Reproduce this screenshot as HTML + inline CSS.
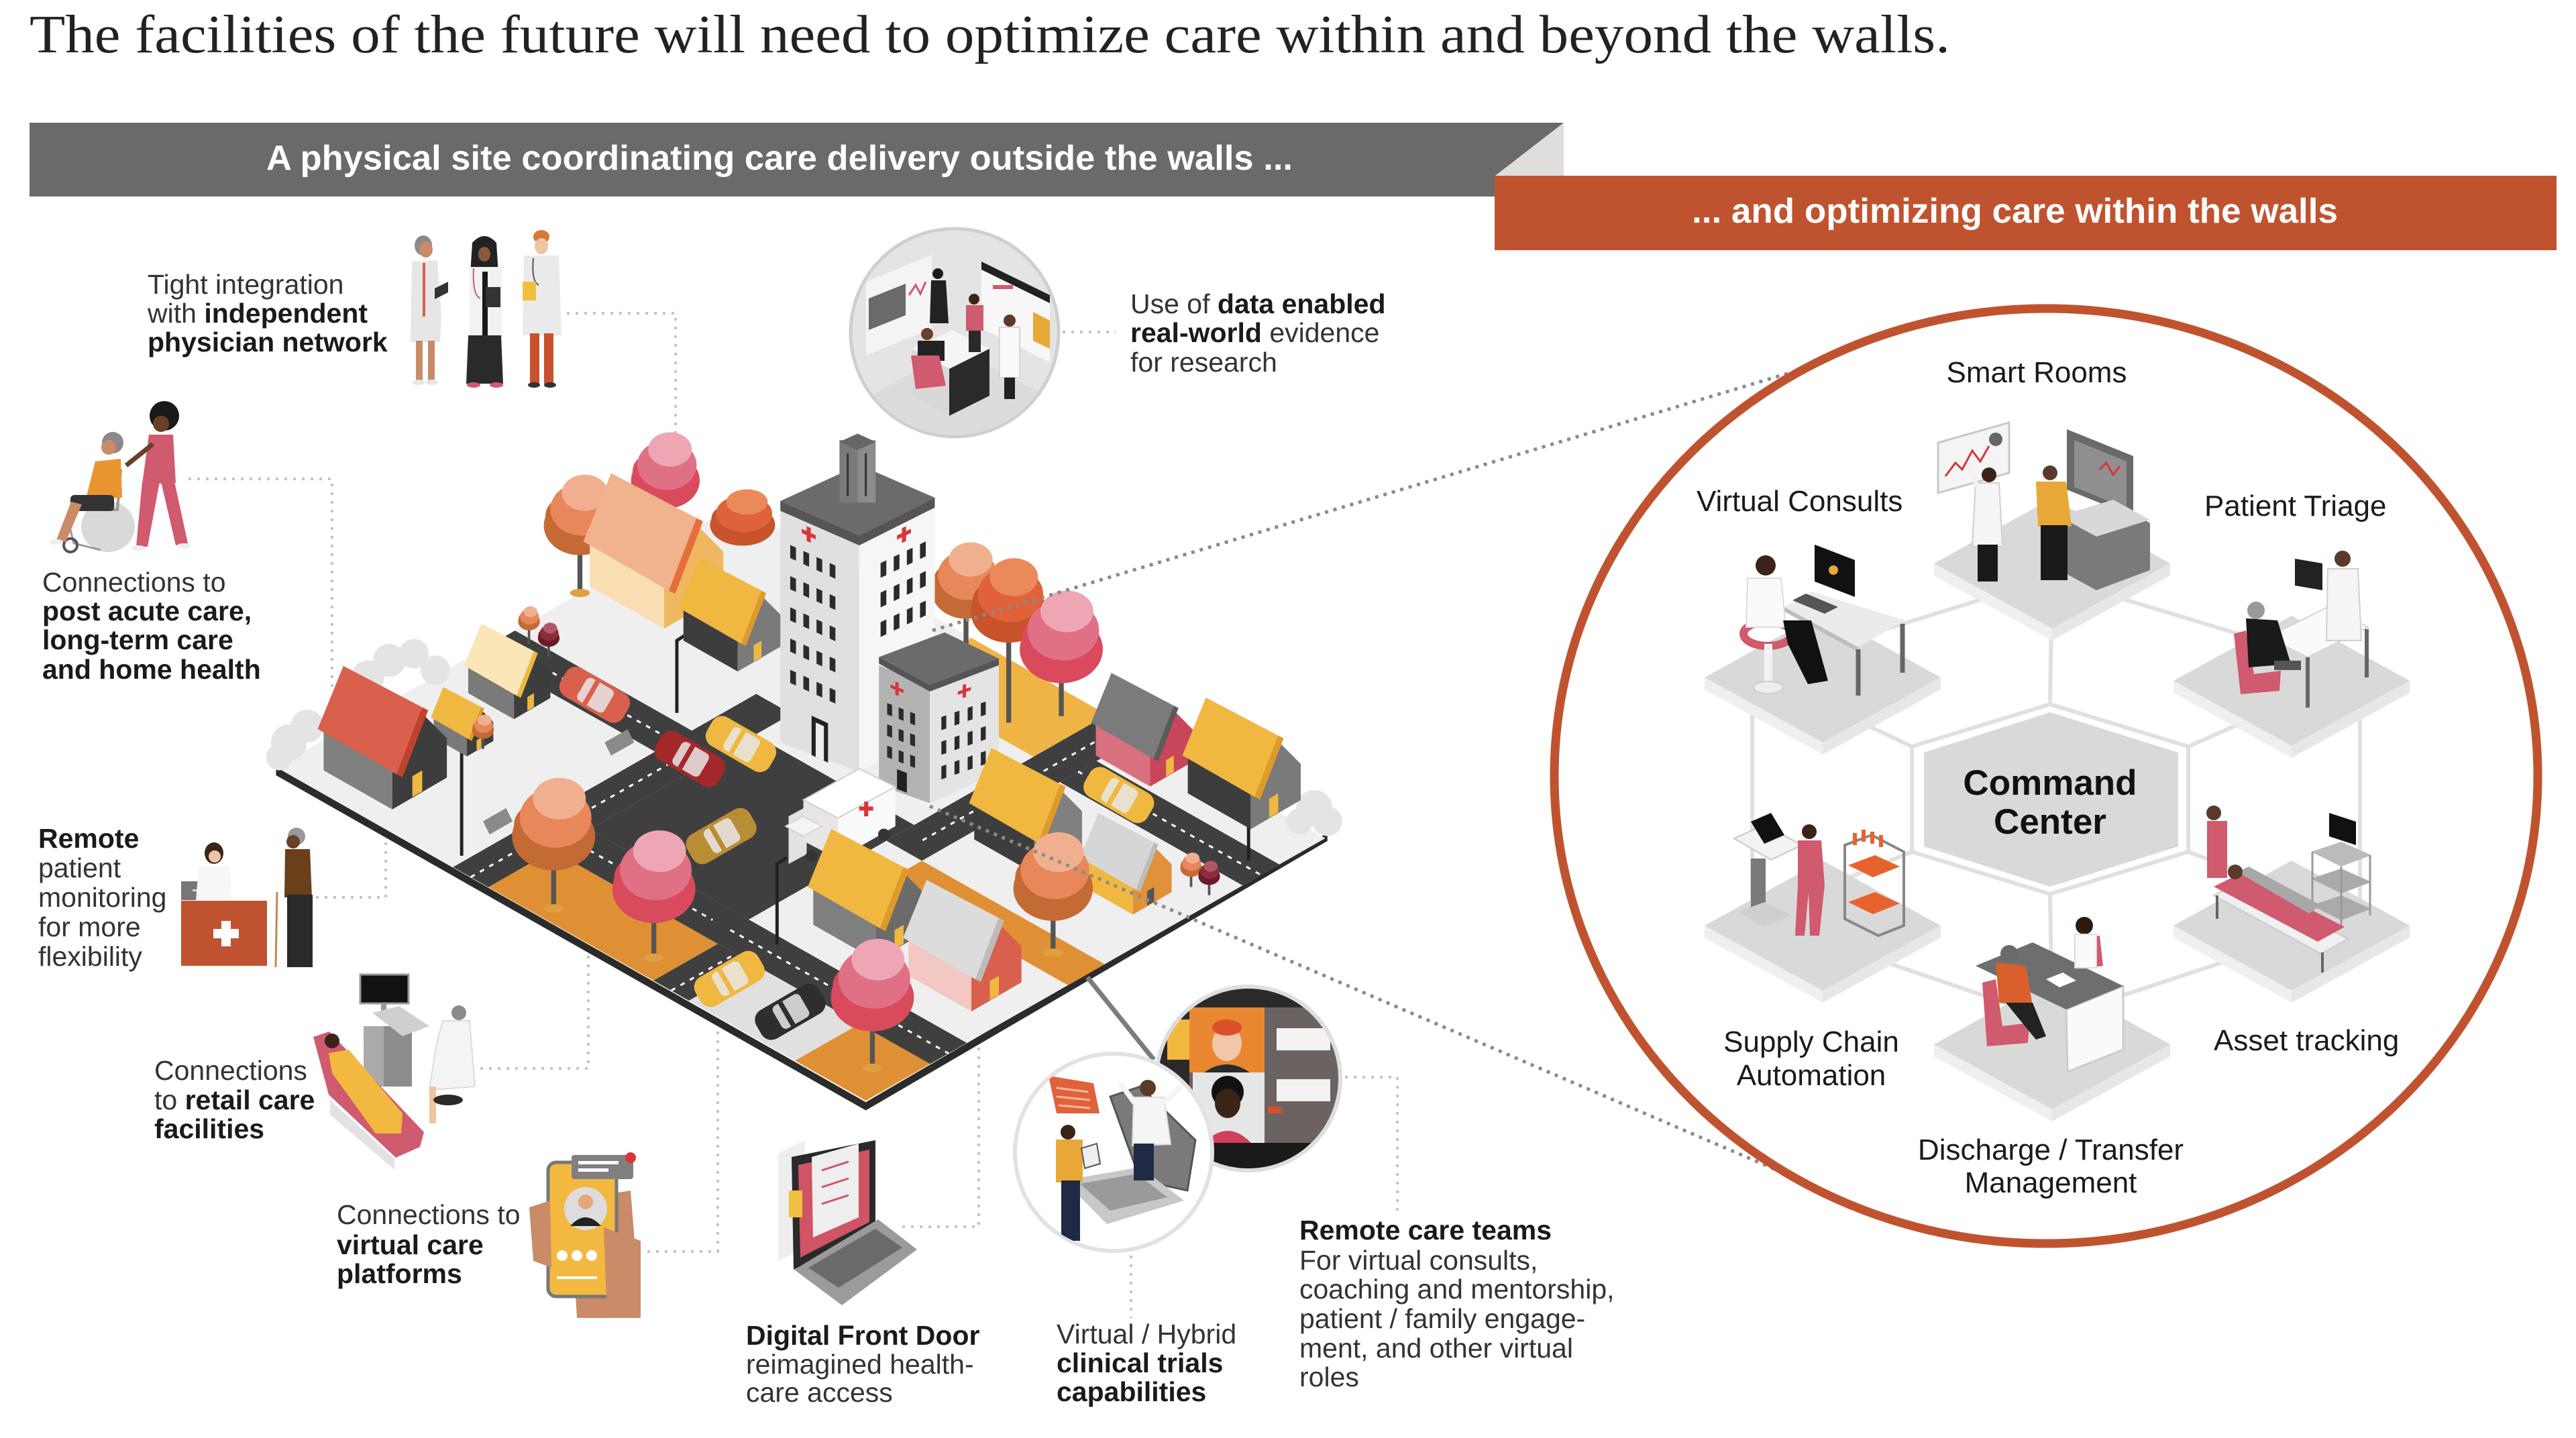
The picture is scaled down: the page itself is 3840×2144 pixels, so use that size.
<!DOCTYPE html>
<html><head><meta charset="utf-8">
<style>
html,body{margin:0;padding:0;background:#fff;}
svg{display:block;}
.t{font-family:"Liberation Sans",Arial,sans-serif;font-size:41px;fill:#333;}
.b{font-weight:bold;fill:#1a1a1a;}
.c{font-family:"Liberation Sans",Arial,sans-serif;font-size:44px;fill:#1a1a1a;}
</style></head><body>
<svg width="3840" height="2144" viewBox="0 0 3840 2144" xmlns="http://www.w3.org/2000/svg" xmlns:xlink="http://www.w3.org/1999/xlink">
<defs>
 <g id="house">
  <polygon points="0,0 34.8,19.8 34.8,-0.2 0,-20" style="fill:var(--s)"/>
  <polygon points="34.8,19.8 62.5,3.7 62.5,-16.3 48.65,-30.25 34.8,-0.2" style="fill:var(--g)"/>
  <polygon points="-3,-21 37,2 50,-32 10,-53" style="fill:var(--r)"/>
  <polygon points="37,2 50,-32 53,-30.5 40,3.5" style="fill:var(--e)"/>
  <polygon points="45,13.5 50,10.6 50,0 45,3" style="fill:var(--d)"/>
 </g>
 <g id="canopy">
  <ellipse cx="0" cy="8" rx="22" ry="18" style="fill:var(--a)"/>
  <ellipse cx="-7" cy="2" rx="14" ry="12" style="fill:var(--a)"/>
  <ellipse cx="1" cy="-2" rx="19" ry="16" style="fill:var(--b)"/>
  <ellipse cx="3" cy="-12" rx="14" ry="11" style="fill:var(--c)"/>
 </g>
 <g id="car">
  <rect x="-22" y="-10" width="44" height="20" rx="7" style="fill:var(--k)"/>
  <rect x="-9" y="-8" width="19" height="16" rx="3" fill="#e8e8e8" opacity="0.85"/>
  <rect x="-4" y="-8" width="3" height="16" style="fill:var(--k)"/>
 </g>
 <clipPath id="vc"><circle cx="1861" cy="1608" r="137"/></clipPath>
 <clipPath id="dc"><circle cx="1423" cy="496" r="153"/></clipPath>
 <clipPath id="cc"><circle cx="1660" cy="1718" r="145"/></clipPath>
</defs>
<rect width="3840" height="2144" fill="#fff"/>

<!-- Title -->
<text x="44" y="78" font-family="Liberation Serif, serif" font-size="80" fill="#222" textLength="2863" lengthAdjust="spacingAndGlyphs">The facilities of the future will need to optimize care within and beyond the walls.</text>

<!-- Banners -->
<polygon points="44,183 2331,183 2229,262 2229,293 44,293" fill="#6a6a6a"/>
<polygon points="2331,183 2331,262 2229,262" fill="#dedede"/>
<rect x="2228" y="262" width="1583" height="111" fill="#c0532f"/>
<text x="397" y="253" font-family="Liberation Sans, Arial, sans-serif" font-size="52" font-weight="bold" fill="#fff" textLength="1530" lengthAdjust="spacingAndGlyphs">A physical site coordinating care delivery outside the walls ...</text>
<text x="2522" y="332" font-family="Liberation Sans, Arial, sans-serif" font-size="52" font-weight="bold" fill="#fff" textLength="963" lengthAdjust="spacingAndGlyphs">... and optimizing care within the walls</text>

<!-- Left dotted connectors -->
<g fill="none" stroke="#c4c4c4" stroke-width="4" stroke-dasharray="4 9">
 <polyline points="845,467 1007,467 1007,780"/>
 <polyline points="281,714 495,714 495,1024"/>
 <polyline points="471,1338 575,1338 575,1229 666,1229"/>
 <polyline points="716,1593 877,1593 877,1353"/>
 <polyline points="965,1866 1070,1866 1070,1530"/>
 <polyline points="1345,1829 1459,1829 1459,1542"/>
 <polyline points="1686,1872 1686,1965"/>
 <polyline points="2005,1606 2083,1606 2083,1808"/>
 <polyline points="1584,495 1663,495"/>
</g>

<!-- CITY (main coords) -->
<g transform="scale(2.449)">
 <polygon points="168,467 527,671 808,507 808,512 527,676 168,472" fill="#2b2b2b"/>
 <g transform="matrix(3.59,2.031,2.797,-1.598,168,467)">
  <rect x="0" y="0" width="100" height="100" fill="#efefef"/>
  <rect x="36" y="0" width="28" height="14" fill="#df9035"/>
  <rect x="88" y="0" width="12" height="14" fill="#df9035"/>
  <rect x="70" y="0" width="18" height="14" fill="#e0e0e0"/>
  <rect x="69" y="44" width="31" height="8" fill="#df9035"/>
  <rect x="40" y="84" width="23" height="16" fill="#f0b445"/>
  <g fill="#3f3f3f">
   <rect x="30" y="0" width="6" height="66"/>
   <rect x="0" y="44" width="36" height="8"/>
   <rect x="36" y="22" width="27" height="36"/>
   <rect x="36" y="14" width="64" height="8"/>
   <rect x="64" y="0" width="6" height="14"/>
   <rect x="63" y="52" width="6" height="48"/>
   <rect x="69" y="82" width="31" height="8"/>
  </g>
  <g stroke="#fff" stroke-width="3" stroke-dasharray="7 9">
   <line x1="33" y1="0" x2="33" y2="44" vector-effect="non-scaling-stroke"/>
   <line x1="0" y1="48" x2="30" y2="48" vector-effect="non-scaling-stroke"/>
   <line x1="63" y1="18" x2="100" y2="18" vector-effect="non-scaling-stroke"/>
   <line x1="36" y1="18" x2="60" y2="18" vector-effect="non-scaling-stroke"/>
   <line x1="69" y1="86" x2="100" y2="86" vector-effect="non-scaling-stroke"/>
   <line x1="66" y1="56" x2="66" y2="100" vector-effect="non-scaling-stroke"/>
   <line x1="67" y1="0" x2="67" y2="14" vector-effect="non-scaling-stroke"/>
  </g>
 </g>
 <!-- clouds -->
 <g fill="#e4e4e4">
  <circle cx="176" cy="452" r="11"/><circle cx="187" cy="442" r="10"/><circle cx="170" cy="461" r="8"/>
  <circle cx="224" cy="412" r="10"/><circle cx="237" cy="402" r="10"/><circle cx="252" cy="398" r="9"/><circle cx="265" cy="408" r="9"/>
  <circle cx="800" cy="492" r="11"/><circle cx="808" cy="500" r="9"/><circle cx="791" cy="500" r="8"/>
 </g>
 <!-- cars -->
 <use xlink:href="#car" href="#car" transform="translate(362,423) rotate(30)" style="--k:#d9604c"/>
 <use xlink:href="#car" href="#car" transform="translate(420,462) rotate(30)" style="--k:#a3282a"/>
 <use xlink:href="#car" href="#car" transform="translate(451,453) rotate(30)" style="--k:#f0b840"/>
 <use xlink:href="#car" href="#car" transform="translate(439,509) rotate(-30)" style="--k:#b88d35"/>
 <use xlink:href="#car" href="#car" transform="translate(444,596) rotate(-30)" style="--k:#f0b840"/>
 <use xlink:href="#car" href="#car" transform="translate(481,616) rotate(-30)" style="--k:#2e2e2e"/>
 <use xlink:href="#car" href="#car" transform="translate(681,484) rotate(30)" style="--k:#f0b840"/>
 <!-- benches & lamps -->
 <polygon points="368,452 382,444 386,452 372,460" fill="#8a8a8a"/>
 <polygon points="294,500 308,492 312,500 298,508" fill="#8a8a8a"/>
 <g stroke="#222" stroke-width="2" fill="none">
  <polyline points="412,434 412,390 418,386"/>
  <polyline points="281,521 281,453 287,449"/>
  <polyline points="473,575 473,526 479,522"/>
  <polyline points="760,524 760,473 754,469"/>
 </g>
 <!-- back trees -->
 <line x1="405" y1="300" x2="405" y2="330" stroke="#555" stroke-width="3"/>
 <use xlink:href="#canopy" href="#canopy" transform="translate(405,285) scale(0.95)" style="--a:#d94a5c;--b:#e07085;--c:#eea6b5"/>
 <use xlink:href="#canopy" href="#canopy" transform="translate(452,314) scale(0.9,0.7)" style="--a:#c9532a;--b:#e0623a;--c:#ea8a5a"/>
 <line x1="353" y1="327" x2="353" y2="361" stroke="#555" stroke-width="3"/>
 <ellipse cx="353" cy="361" rx="6" ry="2.5" fill="#e0a040"/>
 <use xlink:href="#canopy" href="#canopy" transform="translate(353,312)" style="--a:#c46a35;--b:#e8875a;--c:#f0b090"/>
 <!-- houses back -->
 <use xlink:href="#house" href="#house" transform="translate(359,357) scale(1.3)" style="--s:#f8deb2;--g:#efb860;--r:#f1b28e;--e:#e56f3c;--d:#8a8a8a"/>
 <use xlink:href="#house" href="#house" transform="translate(416,390) scale(0.95)" style="--s:#3d3d3d;--g:#7a7a7a;--r:#f0b840;--e:#e09a2a;--d:#f0b840"/>
 <line x1="588" y1="366" x2="588" y2="420" stroke="#555" stroke-width="3"/>
 <use xlink:href="#canopy" href="#canopy" transform="translate(588,352) scale(0.95)" style="--a:#c46a35;--b:#e8875a;--c:#f0b090"/>
 <use xlink:href="#house" href="#house" transform="translate(285,422) scale(0.8)" style="--s:#7a7a7a;--g:#3d3d3d;--r:#fbe6b8;--e:#f0b840;--d:#f0b840"/>
 <line x1="646" y1="400" x2="646" y2="436" stroke="#555" stroke-width="3"/>
 <line x1="614" y1="380" x2="614" y2="440" stroke="#555" stroke-width="3"/>
 <use xlink:href="#canopy" href="#canopy" transform="translate(614,364) scale(1.05)" style="--a:#c9532a;--b:#e0623a;--c:#ea8a5a"/>
 <use xlink:href="#canopy" href="#canopy" transform="translate(646,386) scale(1.15)" style="--a:#d94a5c;--b:#e07085;--c:#eea6b5"/>
 <!-- small trees -->
 <line x1="322" y1="380" x2="322" y2="392" stroke="#555" stroke-width="1.5"/>
 <use xlink:href="#canopy" href="#canopy" transform="translate(322,376) scale(0.3)" style="--a:#c46a35;--b:#e8875a;--c:#f0b090"/>
 <line x1="334" y1="390" x2="334" y2="400" stroke="#555" stroke-width="1.5"/>
 <use xlink:href="#canopy" href="#canopy" transform="translate(334,386) scale(0.3)" style="--a:#6a1a2a;--b:#8e2b3c;--c:#b05868"/>
 <use xlink:href="#house" href="#house" transform="translate(264,449) scale(0.58)" style="--s:#7a7a7a;--g:#3d3d3d;--r:#f0b840;--e:#e09a2a;--d:#f0b840"/>
 <line x1="294" y1="446" x2="294" y2="456" stroke="#555" stroke-width="1.5"/>
 <use xlink:href="#canopy" href="#canopy" transform="translate(294,442) scale(0.3)" style="--a:#c46a35;--b:#e8875a;--c:#f0b090"/>
 <use xlink:href="#house" href="#house" transform="translate(667,460) scale(0.95)" style="--s:#d9707e;--g:#c8465a;--r:#7b7b7b;--e:#5a5a5a;--d:#f0b840"/>
 <use xlink:href="#house" href="#house" transform="translate(197,469) scale(1.2)" style="--s:#808080;--g:#3d3d3d;--r:#d9604c;--e:#c0412f;--d:#f0b840"/>
 <!-- big hospital -->
 <polygon points="475,307 523,329 523,470 475,452" fill="#e0e0e0"/>
 <polygon points="523,329 569,307 569,443 523,470" fill="#f6f6f6"/>
 <polygon points="475,305 523,326 569,303 569,309 523,332 475,311" fill="#555"/>
 <polygon points="475,305 523,283 569,303 523,326" fill="#6b6b6b"/>
 <rect x="511" y="268" width="22" height="38" fill="#8c8c8c"/>
 <rect x="511" y="268" width="11" height="38" fill="#7a7a7a"/>
 <polygon points="511,269 522,264 533,269 522,274" fill="#666"/>
 <line x1="516" y1="276" x2="516" y2="302" stroke="#333" stroke-width="1.2"/>
 <line x1="527" y1="276" x2="527" y2="302" stroke="#333" stroke-width="1.2"/>
 <g transform="matrix(1,0.458,0,1,0,89.45)" fill="#2b2b2b">
  <rect x="481" y="22" width="3.5" height="8"/><rect x="489" y="22" width="3.5" height="8"/><rect x="497" y="22" width="3.5" height="8"/><rect x="505" y="22" width="3.5" height="8"/>
  <rect x="481" y="41" width="3.5" height="8"/><rect x="489" y="41" width="3.5" height="8"/><rect x="497" y="41" width="3.5" height="8"/><rect x="505" y="41" width="3.5" height="8"/>
  <rect x="481" y="60" width="3.5" height="8"/><rect x="489" y="60" width="3.5" height="8"/><rect x="497" y="60" width="3.5" height="8"/><rect x="505" y="60" width="3.5" height="8"/>
  <rect x="481" y="79" width="3.5" height="8"/><rect x="489" y="79" width="3.5" height="8"/><rect x="497" y="79" width="3.5" height="8"/><rect x="505" y="79" width="3.5" height="8"/>
  <rect x="481" y="98" width="3.5" height="8"/><rect x="489" y="98" width="3.5" height="8"/><rect x="497" y="98" width="3.5" height="8"/><rect x="505" y="98" width="3.5" height="8"/>
  <rect x="494" y="120" width="10" height="24" fill="#222"/><rect x="496.5" y="123" width="5" height="21" fill="#eee"/>
  <rect x="491" y="6" width="2.5" height="9" fill="#d9343a"/><rect x="488" y="9" width="8.5" height="2.5" fill="#d9343a"/>
 </g>
 <g transform="matrix(1,-0.478,0,1,0,579)" fill="#2b2b2b">
  <rect x="536" y="20" width="3.5" height="9"/><rect x="544" y="20" width="3.5" height="9"/><rect x="552" y="20" width="3.5" height="9"/><rect x="560" y="20" width="3.5" height="9"/>
  <rect x="536" y="38" width="3.5" height="9"/><rect x="544" y="38" width="3.5" height="9"/><rect x="552" y="38" width="3.5" height="9"/><rect x="560" y="38" width="3.5" height="9"/>
  <rect x="536" y="56" width="3.5" height="9"/><rect x="544" y="56" width="3.5" height="9"/><rect x="552" y="56" width="3.5" height="9"/><rect x="560" y="56" width="3.5" height="9"/>
  <rect x="549" y="5" width="2.5" height="9" fill="#d9343a"/><rect x="546" y="8" width="8.5" height="2.5" fill="#d9343a"/>
 </g>
 <use xlink:href="#house" href="#house" transform="translate(723,483) scale(1.1)" style="--s:#3d3d3d;--g:#7a7a7a;--r:#f0b840;--e:#e09a2a;--d:#f0b840"/>
 <line x1="725" y1="530" x2="725" y2="540" stroke="#555" stroke-width="1.5"/>
 <use xlink:href="#canopy" href="#canopy" transform="translate(725,526) scale(0.3)" style="--a:#c46a35;--b:#e8875a;--c:#f0b090"/>
 <line x1="736" y1="535" x2="736" y2="545" stroke="#555" stroke-width="1.5"/>
 <use xlink:href="#canopy" href="#canopy" transform="translate(736,531) scale(0.3)" style="--a:#6a1a2a;--b:#8e2b3c;--c:#b05868"/>
 <!-- small hospital -->
 <polygon points="535,405 566,417 566,489 535,478" fill="#b3b3b3"/>
 <polygon points="566,417 608,402 608,470 566,489" fill="#e4e4e4"/>
 <polygon points="535,400 575,385 608,401 566,417" fill="#6b6b6b"/>
 <polygon points="535,400 566,417 608,401 608,405 566,421 535,404" fill="#555"/>
 <g transform="matrix(1,0.387,0,1,0,197)" fill="#2b2b2b">
  <rect x="540" y="22" width="3" height="7"/><rect x="547" y="22" width="3" height="7"/><rect x="554" y="22" width="3" height="7"/>
  <rect x="540" y="35" width="3" height="7"/><rect x="547" y="35" width="3" height="7"/><rect x="554" y="35" width="3" height="7"/>
  <rect x="540" y="48" width="3" height="7"/><rect x="547" y="48" width="3" height="7"/><rect x="554" y="48" width="3" height="7"/>
  <rect x="546" y="60" width="6" height="12" fill="#222"/>
  <rect x="545" y="7" width="2" height="8" fill="#d9343a"/><rect x="542" y="10" width="8" height="2" fill="#d9343a"/>
 </g>
 <g transform="matrix(1,-0.349,0,1,0,614.5)" fill="#2b2b2b">
  <rect x="573" y="22" width="3" height="8"/><rect x="581" y="22" width="3" height="8"/><rect x="589" y="22" width="3" height="8"/><rect x="597" y="22" width="3" height="8"/>
  <rect x="573" y="37" width="3" height="8"/><rect x="581" y="37" width="3" height="8"/><rect x="589" y="37" width="3" height="8"/><rect x="597" y="37" width="3" height="8"/>
  <rect x="573" y="52" width="3" height="8"/><rect x="581" y="52" width="3" height="8"/><rect x="589" y="52" width="3" height="8"/><rect x="597" y="52" width="3" height="8"/>
  <rect x="586" y="7" width="2" height="8" fill="#d9343a"/><rect x="583" y="10" width="8" height="2" fill="#d9343a"/>
 </g>
 <!-- ambulance -->
 <polygon points="480,497 491,491 491,520 480,526" fill="#e2e2e2"/>
 <polygon points="489,487 510,498 510,523 489,512" fill="#e6e6e6"/>
 <polygon points="510,498 545,479 545,503 510,523" fill="#fafafa"/>
 <polygon points="489,487 523,468 545,479 510,498" fill="#ffffff" stroke="#cfcfcf" stroke-width="0.8"/>
 <polygon points="478,503 489,497 500,503 489,509" fill="#f4f4f4" stroke="#cfcfcf" stroke-width="0.6"/>
 <rect x="526" y="488" width="2.5" height="9" fill="#d9343a"/><rect x="523" y="491" width="8.5" height="2.5" fill="#d9343a"/>
 <circle cx="494" cy="521" r="3.5" fill="#333"/><circle cx="515" cy="522" r="3.5" fill="#333"/><circle cx="538" cy="508" r="3.5" fill="#333"/>
 <use xlink:href="#house" href="#house" transform="translate(593,511) scale(1.05)" style="--s:#3d3d3d;--g:#808080;--r:#f0b840;--e:#e09a2a;--d:#f0b840"/>
 <line x1="337" y1="515" x2="337" y2="553" stroke="#555" stroke-width="3"/>
 <ellipse cx="337" cy="553" rx="6" ry="2.5" fill="#e0a040"/>
 <use xlink:href="#canopy" href="#canopy" transform="translate(337,500) scale(1.15)" style="--a:#c46a35;--b:#e8875a;--c:#f0b090"/>
 <use xlink:href="#house" href="#house" transform="translate(660,540) scale(0.85)" style="--s:#f0b840;--g:#e0913a;--r:#d6d6d6;--e:#bdbdbd;--d:#555"/>
 <use xlink:href="#house" href="#house" transform="translate(495,563) scale(1.1)" style="--s:#808080;--g:#6b6b6b;--r:#f0b840;--e:#e09a2a;--d:#f0b840"/>
 <line x1="641" y1="547" x2="641" y2="580" stroke="#555" stroke-width="3"/>
 <ellipse cx="641" cy="580" rx="6" ry="2.5" fill="#e0a040"/>
 <use xlink:href="#canopy" href="#canopy" transform="translate(641,532) scale(1.1)" style="--a:#c46a35;--b:#e8875a;--c:#f0b090"/>
 <line x1="398" y1="548" x2="398" y2="583" stroke="#555" stroke-width="3"/>
 <ellipse cx="398" cy="583" rx="6" ry="2.5" fill="#e0a040"/>
 <use xlink:href="#canopy" href="#canopy" transform="translate(398,532) scale(1.15)" style="--a:#d94a5c;--b:#e07085;--c:#eea6b5"/>
 <use xlink:href="#house" href="#house" transform="translate(553,594) scale(1.1)" style="--s:#f3c7c2;--g:#d9604c;--r:#dcdcdc;--e:#bcbcbc;--d:#f0b840"/>
 <line x1="531" y1="614" x2="531" y2="650" stroke="#555" stroke-width="3"/>
 <ellipse cx="531" cy="650" rx="6" ry="2.5" fill="#e0a040"/>
 <use xlink:href="#canopy" href="#canopy" transform="translate(531,598) scale(1.15)" style="--a:#d94a5c;--b:#e07085;--c:#eea6b5"/>
</g>

<!-- dotted lines to circle -->
<g fill="none" stroke="#8a8a8a" stroke-width="5" stroke-dasharray="5 8">
 <line x1="1390" y1="940" x2="2694" y2="548"/>
 <line x1="1386" y1="1202" x2="2666" y2="1752"/>
</g>
<line x1="1621" y1="1457" x2="1720" y2="1580" stroke="#7c7c7c" stroke-width="7"/>

<!-- Physicians -->
<g>
 <ellipse cx="631" cy="366" rx="13" ry="15" fill="#8a8a8a"/>
 <ellipse cx="635" cy="372" rx="10" ry="12" fill="#c98b68"/>
 <path d="M614,390 L652,388 L658,470 L656,510 L612,510 Z" fill="#e6e6e6"/>
 <rect x="630" y="392" width="4" height="80" fill="#d9604c"/>
 <polygon points="648,430 668,420 668,436 648,446" fill="#333"/>
 <rect x="620" y="508" width="10" height="60" fill="#c98b68"/><rect x="638" y="508" width="10" height="60" fill="#c98b68"/>
 <ellipse cx="624" cy="570" rx="9" ry="4" fill="#e6e6e6"/><ellipse cx="644" cy="570" rx="9" ry="4" fill="#e6e6e6"/>
 <path d="M704,362 Q722,342 740,362 L744,425 L700,425 Z" fill="#222"/>
 <ellipse cx="722" cy="379" rx="9" ry="11" fill="#8b5a3c"/>
 <rect x="700" y="398" width="48" height="110" fill="#f2f2f2"/>
 <rect x="719" y="405" width="8" height="100" fill="#1a1a1a"/>
 <path d="M706,400 Q704,440 716,445" fill="none" stroke="#d05a6e" stroke-width="2"/>
 <rect x="724" y="428" width="22" height="30" fill="#333"/>
 <path d="M698,500 L747,500 L750,572 L695,572 Z" fill="#2a2a2a"/>
 <ellipse cx="706" cy="574" rx="10" ry="4" fill="#d05a6e"/><ellipse cx="740" cy="574" rx="10" ry="4" fill="#d05a6e"/>
 <ellipse cx="807" cy="353" rx="12" ry="10" fill="#d9783a"/>
 <ellipse cx="807" cy="367" rx="10" ry="12" fill="#efc4a0"/>
 <path d="M781,381 L833,381 L837,500 L779,500 Z" fill="#eaeaea"/>
 <path d="M795,385 Q792,420 803,425" fill="none" stroke="#555" stroke-width="2"/>
 <rect x="790" y="497" width="14" height="75" fill="#c9512d"/><rect x="811" y="497" width="14" height="75" fill="#c9512d"/>
 <rect x="779" y="420" width="20" height="28" fill="#f2c040"/>
 <ellipse cx="796" cy="574" rx="9" ry="4" fill="#333"/><ellipse cx="820" cy="574" rx="9" ry="4" fill="#333"/>
</g>

<!-- Wheelchair -->
<g>
 <ellipse cx="161" cy="785" rx="40" ry="38" fill="#d9d9d9"/>
 <polyline points="112,760 175,760 180,700" fill="none" stroke="#999" stroke-width="4"/>
 <polyline points="100,770 110,810 150,820" fill="none" stroke="#999" stroke-width="3"/>
 <circle cx="105" cy="813" r="10" fill="none" stroke="#555" stroke-width="4"/>
 <circle cx="168" cy="660" r="16" fill="#8a8a8a"/>
 <circle cx="162" cy="667" r="11" fill="#c98b68"/>
 <path d="M142,688 L180,684 L182,742 L128,744 Z" fill="#e8952f"/>
 <rect x="105" y="738" width="65" height="24" rx="6" fill="#333"/>
 <polygon points="106,748 122,752 98,808 84,805" fill="#c98b68"/>
 <ellipse cx="84" cy="808" rx="10" ry="4" fill="#eee"/>
 <circle cx="245" cy="620" r="22" fill="#1a1a1a"/>
 <circle cx="240" cy="632" r="12" fill="#6b4028"/>
 <path d="M222,648 L258,648 L262,720 L212,722 Z" fill="#d05a6e"/>
 <polygon points="212,718 238,718 220,815 203,815" fill="#d05a6e"/>
 <polygon points="240,718 260,718 280,810 262,813" fill="#d05a6e"/>
 <line x1="228" y1="662" x2="188" y2="694" stroke="#6b4028" stroke-width="7"/>
 <ellipse cx="206" cy="817" rx="10" ry="4" fill="#eee"/><ellipse cx="274" cy="814" rx="10" ry="4" fill="#eee"/>
</g>

<!-- Data circle -->
<circle cx="1423" cy="496" r="155" fill="#e4e4e4" stroke="#cfcfcf" stroke-width="5"/>
<g clip-path="url(#dc)">
 <polygon points="1280,600 1423,520 1580,600 1423,680" fill="#dcdcdc"/>
 <polygon points="1291,420 1389,380 1389,490 1291,530" fill="#f4f4f4"/>
 <polygon points="1295,445 1350,423 1350,470 1295,492" fill="#6a6a6a"/>
 <polyline points="1355,440 1365,425 1372,438 1380,420" fill="none" stroke="#d05a6e" stroke-width="3"/>
 <polygon points="1463,390 1565,440 1565,540 1463,490" fill="#f7f7f7"/>
 <polygon points="1463,390 1565,440 1565,452 1463,402" fill="#222"/>
 <rect x="1480" y="425" width="30" height="6" fill="#d05a6e"/>
 <polygon points="1540,465 1565,478 1565,520 1540,508" fill="#e8a838"/>
 <polygon points="1360,520 1420,492 1475,520 1415,550" fill="#f5f5f5"/>
 <polygon points="1415,550 1475,520 1475,590 1415,620" fill="#2a2a2a"/>
 <polygon points="1360,520 1415,550 1415,620 1360,590" fill="#d8d8d8"/>
 <circle cx="1398" cy="408" r="8" fill="#1a1a1a"/>
 <polygon points="1388,418 1410,418 1414,482 1386,482" fill="#222"/>
 <circle cx="1452" cy="446" r="8" fill="#3a2418"/>
 <rect x="1440" y="455" width="26" height="38" fill="#d05a6e"/>
 <rect x="1444" y="493" width="18" height="32" fill="#2a2a2a"/>
 <circle cx="1505" cy="478" r="9" fill="#5a3a2a"/>
 <rect x="1490" y="488" width="30" height="75" fill="#fafafa" stroke="#d5d5d5" stroke-width="2"/>
 <rect x="1497" y="563" width="16" height="32" fill="#222"/>
 <circle cx="1382" cy="498" r="9" fill="#6b4028"/>
 <rect x="1368" y="508" width="40" height="30" fill="#222"/>
 <polygon points="1358,530 1400,530 1410,575 1365,580" fill="#d05a6e"/>
</g>

<!-- Remote patient monitoring -->
<g>
 <rect x="270" y="1314" width="47" height="28" fill="#777"/>
 <rect x="287" y="1326" width="12" height="3" fill="#ddd"/>
 <ellipse cx="319" cy="1272" rx="14" ry="16" fill="#3a2418"/>
 <circle cx="320" cy="1277" r="9" fill="#efc4a0"/>
 <path d="M296,1292 L342,1292 L346,1345 L292,1345 Z" fill="#f7f7f7"/>
 <rect x="270" y="1343" width="128" height="97" fill="#c0532f"/>
 <rect x="330" y="1373" width="14" height="38" fill="#fff"/><rect x="318" y="1385" width="38" height="14" fill="#fff"/>
 <circle cx="442" cy="1247" r="13" fill="#9a9a9a"/>
 <circle cx="437" cy="1255" r="10" fill="#6b4028"/>
 <path d="M425,1266 L462,1266 L465,1338 L424,1338 Z" fill="#6b3f1a"/>
 <rect x="428" y="1334" width="38" height="108" fill="#2a2a2a"/>
 <line x1="413" y1="1330" x2="411" y2="1442" stroke="#c08a4a" stroke-width="3"/>
</g>

<!-- Retail -->
<g>
 <rect x="537" y="1453" width="72" height="43" fill="#111" stroke="#999" stroke-width="3"/>
 <rect x="568" y="1496" width="8" height="12" fill="#999"/>
 <rect x="542" y="1530" width="72" height="90" fill="#8c8c8c"/>
 <rect x="542" y="1530" width="30" height="90" fill="#aaa"/>
 <polygon points="555,1510 595,1500 640,1530 600,1545" fill="#cfcfcf"/>
 <polygon points="467,1546 491,1538 545,1596 632,1688 626,1710 590,1726 490,1632" fill="#d05a6e"/>
 <polygon points="492,1640 588,1728 588,1744 492,1662" fill="#e2e2e2"/>
 <polygon points="490,1570 520,1565 600,1660 598,1690 560,1690 495,1600" fill="#f2b840"/>
 <circle cx="495" cy="1552" r="11" fill="#3a2418"/>
 <circle cx="684" cy="1510" r="11" fill="#8a8a8a"/>
 <path d="M660,1522 L700,1522 L708,1620 L640,1625 L650,1560 Z" fill="#f4f4f4" stroke="#dcdcdc" stroke-width="2"/>
 <rect x="640" y="1620" width="10" height="55" fill="#efc4a0"/>
 <ellipse cx="668" cy="1640" rx="22" ry="8" fill="#2a2a2a"/>
</g>

<!-- Phone -->
<g>
 <path d="M850,1790 L940,1775 L955,1965 L860,1965 Z" fill="#c98b68"/>
 <rect x="817" y="1733" width="102" height="200" rx="12" fill="#f2b840" stroke="#777" stroke-width="5"/>
 <rect x="852" y="1722" width="92" height="36" rx="4" fill="#808080"/>
 <rect x="862" y="1731" width="60" height="5" fill="#fff"/><rect x="862" y="1742" width="45" height="5" fill="#fff"/>
 <circle cx="940" cy="1726" r="8" fill="#d9343a"/>
 <circle cx="873" cy="1802" r="32" fill="#ddd"/>
 <circle cx="873" cy="1792" r="11" fill="#e8a77a"/>
 <path d="M850,1828 Q873,1802 896,1828 Z" fill="#222"/>
 <circle cx="838" cy="1872" r="8" fill="#fff"/><circle cx="860" cy="1872" r="8" fill="#fff"/><circle cx="882" cy="1872" r="8" fill="#fff"/>
 <rect x="830" y="1903" width="60" height="4" fill="#fff"/>
 <path d="M789,1800 L820,1790 L822,1890 L795,1880 Z" fill="#c98b68"/>
 <path d="M900,1830 L955,1850 L955,1965 L905,1965 Z" fill="#c98b68"/>
</g>

<!-- Laptop -->
<g>
 <polygon points="1160,1720 1200,1700 1200,1860 1160,1880" fill="#eeeeee"/>
 <polygon points="1180,1725 1305,1700 1305,1830 1183,1893" fill="#2a2a2a"/>
 <polygon points="1190,1737 1296,1714 1296,1822 1193,1875" fill="#cf5466"/>
 <polygon points="1210,1725 1280,1705 1280,1815 1212,1845" fill="#eeeeee"/>
 <g stroke="#cf5466" stroke-width="3"><line x1="1225" y1="1745" x2="1265" y2="1732"/><line x1="1225" y1="1770" x2="1265" y2="1757"/><line x1="1225" y1="1795" x2="1265" y2="1782"/></g>
 <rect x="1176" y="1775" width="20" height="40" fill="#f0c040"/>
 <polygon points="1184,1893 1309,1818 1367,1863 1255,1946" fill="#9b9b9b"/>
 <polygon points="1205,1890 1305,1832 1345,1860 1250,1920" fill="#6a6a6a"/>
</g>

<!-- Video circle -->
<g clip-path="url(#vc)">
 <rect x="1720" y="1466" width="280" height="290" fill="#6b6361"/>
 <rect x="1720" y="1466" width="280" height="36" fill="#2a2a2a"/>
 <rect x="1720" y="1502" width="53" height="200" fill="#2a2a2a"/>
 <rect x="1740" y="1520" width="33" height="60" fill="#f0b840"/>
 <rect x="1773" y="1502" width="112" height="97" fill="#e8872f"/>
 <ellipse cx="1829" cy="1556" rx="22" ry="26" fill="#f2c6a8"/>
 <ellipse cx="1829" cy="1532" rx="22" ry="12" fill="#d9502a"/>
 <path d="M1795,1599 Q1829,1575 1863,1599 Z" fill="#2a2a2a"/>
 <rect x="1778" y="1599" width="107" height="105" fill="#e6e6e6"/>
 <circle cx="1830" cy="1628" r="24" fill="#111"/>
 <ellipse cx="1830" cy="1645" rx="19" ry="22" fill="#3a2418"/>
 <path d="M1795,1704 Q1830,1668 1865,1704 Z" fill="#d0405a"/>
 <rect x="1903" y="1533" width="80" height="33" fill="#f2f2f2"/>
 <rect x="1903" y="1609" width="80" height="33" fill="#f2f2f2"/>
 <rect x="1890" y="1650" width="20" height="10" fill="#d9502a"/>
 <rect x="1720" y="1704" width="280" height="60" fill="#1a1a1a"/>
</g>
<circle cx="1861" cy="1608" r="137" fill="none" stroke="#dedede" stroke-width="6"/>

<!-- Clinical circle -->
<circle cx="1660" cy="1718" r="147" fill="#fff" stroke="#e2e2e2" stroke-width="6"/>
<g clip-path="url(#cc)">
 <polygon points="1655,1635 1700,1620 1782,1700 1770,1775 1700,1760" fill="#7a7a7a" stroke="#555" stroke-width="3"/>
 <polygon points="1586,1760 1700,1740 1765,1790 1650,1825" fill="#c8c8c8"/>
 <polygon points="1610,1765 1695,1750 1740,1785 1655,1805" fill="#9a9a9a"/>
 <circle cx="1711" cy="1622" r="12" fill="#5a3a2a"/>
 <polygon points="1690,1636 1735,1636 1745,1706 1688,1708" fill="#f5f5f5" stroke="#ddd" stroke-width="2"/>
 <line x1="1692" y1="1645" x2="1670" y2="1615" stroke="#f5f5f5" stroke-width="8"/>
 <line x1="1735" y1="1645" x2="1760" y2="1620" stroke="#f5f5f5" stroke-width="8"/>
 <rect x="1690" y="1705" width="30" height="55" fill="#1f2a44"/>
 <polygon points="1563,1604 1630,1615 1639,1660 1575,1660" fill="#e0623a"/>
 <g stroke="#f5b8a0" stroke-width="3"><line x1="1575" y1="1622" x2="1622" y2="1628"/><line x1="1575" y1="1635" x2="1625" y2="1640"/><line x1="1578" y1="1648" x2="1625" y2="1652"/></g>
 <circle cx="1592" cy="1688" r="11" fill="#3a2418"/>
 <rect x="1574" y="1699" width="40" height="64" fill="#e8a838"/>
 <rect x="1582" y="1760" width="28" height="90" fill="#1f2a44"/>
 <polygon points="1612,1712 1635,1705 1640,1735 1617,1742" fill="#eee" stroke="#555" stroke-width="2"/>
</g>

<!-- Left / bottom texts -->
<text class="t" x="220" y="438">Tight integration</text>
<text class="t" x="220" y="481">with <tspan class="b">independent</tspan></text>
<text class="t b" x="220" y="524">physician network</text>

<text class="t" x="63" y="882">Connections to</text>
<text class="t b" x="63" y="925">post acute care,</text>
<text class="t b" x="63" y="968">long-term care</text>
<text class="t b" x="63" y="1012">and home health</text>

<text class="t" x="1685" y="467">Use of <tspan class="b">data enabled</tspan></text>
<text class="t" x="1685" y="510"><tspan class="b">real-world</tspan> evidence</text>
<text class="t" x="1685" y="554">for research</text>

<text class="t b" x="57" y="1264">Remote</text>
<text class="t" x="57" y="1308">patient</text>
<text class="t" x="57" y="1352">monitoring</text>
<text class="t" x="57" y="1396">for more</text>
<text class="t" x="57" y="1440">flexibility</text>

<text class="t" x="230" y="1610">Connections</text>
<text class="t" x="230" y="1654">to <tspan class="b">retail care</tspan></text>
<text class="t b" x="230" y="1697">facilities</text>

<text class="t" x="502" y="1825">Connections to</text>
<text class="t b" x="502" y="1870">virtual care</text>
<text class="t b" x="502" y="1913">platforms</text>

<text class="t b" x="1112" y="2005">Digital Front Door</text>
<text class="t" x="1112" y="2048">reimagined health-</text>
<text class="t" x="1112" y="2090">care access</text>

<text class="t" x="1575" y="2003">Virtual / Hybrid</text>
<text class="t b" x="1575" y="2046">clinical trials</text>
<text class="t b" x="1575" y="2089">capabilities</text>

<text class="t b" x="1937" y="1848">Remote care teams</text>
<text class="t" x="1937" y="1893">For virtual consults,</text>
<text class="t" x="1937" y="1936">coaching and mentorship,</text>
<text class="t" x="1937" y="1980">patient / family engage-</text>
<text class="t" x="1937" y="2024">ment, and other virtual</text>
<text class="t" x="1937" y="2067">roles</text>

<!-- Command center network -->
<g fill="none" stroke="#e0e0e0" stroke-width="6">
 <polygon points="3059,861 3518,1000 3518,1367 3059,1519 2612,1367 2612,1000"/>
 <line x1="3056" y1="1050" x2="3059" y2="861"/>
 <line x1="3262" y1="1113" x2="3518" y2="1000"/>
 <line x1="3262" y1="1270" x2="3518" y2="1367"/>
 <line x1="3056" y1="1333" x2="3059" y2="1519"/>
 <line x1="2850" y1="1270" x2="2612" y2="1367"/>
 <line x1="2850" y1="1113" x2="2612" y2="1000"/>
</g>
<polygon points="3056,1050 3262,1113 3262,1270 3056,1333 2850,1270 2850,1113" fill="#fff" stroke="#e0e0e0" stroke-width="6"/>
<polygon points="3056,1062 3247,1122 3247,1262 3056,1322 2868,1262 2868,1122" fill="#d9d9d9"/>

<!-- tiles -->
<g>
 <polygon points="2883,840 3059,937 3059,955 2883,858" fill="#efefef"/><polygon points="3059,937 3235,840 3235,858 3059,955" fill="#e7e7e7"/><polygon points="2883,840 3059,743 3235,840 3059,937" fill="#d9d9d9"/>
 <polygon points="2541,1010 2717,1107 2717,1125 2541,1028" fill="#efefef"/><polygon points="2717,1107 2893,1010 2893,1028 2717,1125" fill="#e7e7e7"/><polygon points="2541,1010 2717,913 2893,1010 2717,1107" fill="#d9d9d9"/>
 <polygon points="3240,1015 3416,1112 3416,1130 3240,1033" fill="#efefef"/><polygon points="3416,1112 3592,1015 3592,1033 3416,1130" fill="#e7e7e7"/><polygon points="3240,1015 3416,918 3592,1015 3416,1112" fill="#d9d9d9"/>
 <polygon points="2541,1380 2717,1477 2717,1495 2541,1398" fill="#efefef"/><polygon points="2717,1477 2893,1380 2893,1398 2717,1495" fill="#e7e7e7"/><polygon points="2541,1380 2717,1283 2893,1380 2717,1477" fill="#d9d9d9"/>
 <polygon points="3240,1380 3416,1477 3416,1495 3240,1398" fill="#efefef"/><polygon points="3416,1477 3592,1380 3592,1398 3416,1495" fill="#e7e7e7"/><polygon points="3240,1380 3416,1283 3592,1380 3416,1477" fill="#d9d9d9"/>
 <polygon points="2883,1557 3059,1654 3059,1672 2883,1575" fill="#efefef"/><polygon points="3059,1654 3235,1557 3235,1575 3059,1672" fill="#e7e7e7"/><polygon points="2883,1557 3059,1460 3235,1557 3059,1654" fill="#d9d9d9"/>
</g>

<!-- Smart rooms -->
<g>
 <polygon points="2889,660 2995,630 2995,705 2889,735" fill="#f4f4f4" stroke="#c8c8c8" stroke-width="3"/>
 <polyline points="2900,710 2915,690 2925,700 2940,672 2952,688 2965,665" fill="none" stroke="#d9343a" stroke-width="3"/>
 <circle cx="2975" cy="655" r="10" fill="#666"/>
 <polygon points="3081,640 3180,680 3180,770 3081,730" fill="#6a6a6a"/>
 <polygon points="3092,656 3170,688 3170,758 3092,726" fill="#8f8f8f"/>
 <polyline points="3130,700 3140,690 3150,708 3160,695" fill="none" stroke="#d9343a" stroke-width="3"/>
 <polygon points="3070,770 3150,745 3205,780 3205,850 3125,880 3070,850" fill="#7a7a7a"/>
 <polygon points="3070,770 3150,745 3205,775 3125,800" fill="#d8d8d8"/>
 <circle cx="2965" cy="708" r="11" fill="#3a2418"/>
 <polygon points="2945,720 2980,720 2985,815 2940,815" fill="#f5f5f5" stroke="#cfcfcf" stroke-width="2"/>
 <line x1="2947" y1="725" x2="2935" y2="690" stroke="#f0f0f0" stroke-width="7"/>
 <rect x="2948" y="812" width="30" height="55" fill="#1a1a1a"/>
 <circle cx="3056" cy="705" r="11" fill="#5a3a2a"/>
 <polygon points="3035,718 3080,718 3088,785 3038,785" fill="#e8a838"/>
 <rect x="3042" y="783" width="40" height="82" fill="#1a1a1a"/>
</g>
<!-- Virtual consults -->
<g>
 <polygon points="2660,905 2700,882 2840,925 2770,965" fill="#ebebeb"/>
 <polygon points="2660,905 2770,965 2770,972 2660,912" fill="#bdbdbd"/>
 <line x1="2770" y1="968" x2="2770" y2="1037" stroke="#666" stroke-width="7"/>
 <line x1="2836" y1="930" x2="2836" y2="1003" stroke="#666" stroke-width="7"/>
 <polygon points="2705,812 2765,835 2765,890 2705,867" fill="#111"/>
 <circle cx="2733" cy="850" r="7" fill="#e8a838"/>
 <polygon points="2672,895 2692,885 2740,905 2720,915" fill="#555"/>
 <ellipse cx="2635" cy="945" rx="36" ry="18" fill="none" stroke="#d05a6e" stroke-width="12"/>
 <rect x="2630" y="960" width="12" height="60" fill="#f2f2f2"/>
 <ellipse cx="2636" cy="1025" rx="22" ry="9" fill="#eee" stroke="#ccc" stroke-width="2"/>
 <circle cx="2632" cy="843" r="15" fill="#3a2418"/>
 <polygon points="2605,862 2655,862 2662,935 2603,935" fill="#fafafa" stroke="#ddd" stroke-width="2"/>
 <polygon points="2658,925 2700,925 2725,1015 2695,1020 2665,960" fill="#111"/>
</g>
<!-- Patient triage -->
<g>
 <polygon points="3380,950 3470,905 3530,935 3440,980" fill="#fafafa" stroke="#d5d5d5" stroke-width="2"/>
 <line x1="3440" y1="980" x2="3440" y2="1055" stroke="#666" stroke-width="6"/>
 <line x1="3528" y1="938" x2="3528" y2="1010" stroke="#666" stroke-width="6"/>
 <circle cx="3492" cy="833" r="12" fill="#5a3a2a"/>
 <polygon points="3470,848 3515,848 3520,955 3468,955" fill="#f5f5f5" stroke="#d0d0d0" stroke-width="2"/>
 <polygon points="3421,833 3462,840 3462,880 3421,873" fill="#222"/>
 <polygon points="3330,945 3348,940 3360,1005 3400,1000 3398,1030 3340,1035" fill="#d05a6e"/>
 <circle cx="3363" cy="910" r="13" fill="#9a9a9a"/>
 <polygon points="3348,922 3395,925 3415,990 3352,995" fill="#1a1a1a"/>
 <rect x="3390" y="985" width="40" height="14" fill="#555"/>
</g>
<!-- Supply chain -->
<g>
 <rect x="2610" y="1280" width="22" height="80" fill="#7a7a7a"/>
 <polygon points="2590,1360 2630,1345 2670,1365 2630,1382" fill="#cfcfcf"/>
 <polygon points="2585,1250 2630,1230 2686,1260 2640,1282" fill="#f2f2f2" stroke="#c8c8c8" stroke-width="2"/>
 <polygon points="2610,1225 2640,1212 2660,1245 2630,1258" fill="#111"/>
 <circle cx="2697" cy="1240" r="11" fill="#3a2418"/>
 <polygon points="2680,1253 2715,1253 2720,1320 2712,1395 2698,1395 2696,1330 2690,1395 2676,1395 2680,1320" fill="#d05a6e"/>
 <polygon points="2750,1260 2790,1245 2838,1270 2838,1380 2800,1395 2750,1370" fill="none" stroke="#888" stroke-width="4"/>
 <polygon points="2755,1290 2795,1275 2832,1292 2792,1308" fill="#e8622e"/>
 <polygon points="2755,1345 2795,1330 2832,1347 2792,1363" fill="#e8622e"/>
 <g fill="#e8622e"><rect x="2762" y="1242" width="6" height="18"/><rect x="2775" y="1237" width="6" height="18"/><rect x="2788" y="1240" width="6" height="18"/><rect x="2801" y="1245" width="6" height="18"/></g>
</g>
<!-- Asset tracking -->
<g>
 <polygon points="3472,1212 3512,1225 3512,1260 3472,1247" fill="#111"/>
 <polygon points="3445,1270 3490,1255 3535,1275 3490,1292" fill="#bbb"/>
 <polygon points="3445,1310 3490,1295 3535,1315 3490,1332" fill="#aaa"/>
 <polygon points="3445,1350 3490,1335 3535,1355 3490,1372" fill="#aaa"/>
 <g stroke="#999" stroke-width="3"><line x1="3447" y1="1270" x2="3447" y2="1360"/><line x1="3533" y1="1275" x2="3533" y2="1365"/><line x1="3490" y1="1292" x2="3490" y2="1380"/></g>
 <polygon points="3300,1335 3340,1315 3500,1400 3460,1422" fill="#f0f0f0" stroke="#ccc" stroke-width="2"/>
 <polygon points="3300,1322 3340,1302 3495,1382 3455,1404" fill="#d05a6e"/>
 <polygon points="3335,1300 3352,1292 3460,1350 3442,1362" fill="#a8a8a8"/>
 <circle cx="3332" cy="1300" r="11" fill="#5a3a2a"/>
 <g stroke="#666" stroke-width="4"><line x1="3305" y1="1335" x2="3305" y2="1370"/><line x1="3462" y1="1420" x2="3462" y2="1450"/></g>
 <circle cx="3300" cy="1212" r="11" fill="#5a3a2a"/>
 <rect x="3290" y="1224" width="30" height="85" fill="#d05a6e"/>
</g>
<!-- Discharge -->
<g>
 <polygon points="3080,1505 3165,1470 3165,1565 3082,1598" fill="#fafafa" stroke="#cccccc" stroke-width="3"/>
 <polygon points="2945,1440 3030,1405 3165,1470 3080,1505" fill="#6e6e6e"/>
 <polygon points="3050,1460 3075,1450 3095,1462 3070,1472" fill="#fff"/>
 <polygon points="3095,1400 3130,1395 3135,1440 3100,1445" fill="#d05a6e"/>
 <circle cx="3107" cy="1380" r="13" fill="#2a1a10"/>
 <rect x="3093" y="1393" width="32" height="50" fill="#fafafa" stroke="#ddd" stroke-width="2"/>
 <polygon points="2955,1465 2975,1460 2985,1530 3025,1525 3023,1555 2962,1560" fill="#d05a6e"/>
 <circle cx="2995" cy="1422" r="13" fill="#6a6a6a"/>
 <polygon points="2975,1435 3020,1440 3030,1500 2980,1495" fill="#d9602c"/>
 <polygon points="2990,1495 3030,1495 3050,1545 3035,1550" fill="#222"/>
</g>

<!-- Command center text -->
<text x="3056" y="1185" text-anchor="middle" font-family="Liberation Sans, Arial, sans-serif" font-size="53" font-weight="bold" fill="#111">Command</text>
<text x="3056" y="1243" text-anchor="middle" font-family="Liberation Sans, Arial, sans-serif" font-size="53" font-weight="bold" fill="#111">Center</text>

<!-- circle labels -->
<text class="c" x="3036" y="570" text-anchor="middle">Smart Rooms</text>
<text class="c" x="2529" y="762">Virtual Consults</text>
<text class="c" x="3286" y="769">Patient Triage</text>
<text class="c" x="2700" y="1568" text-anchor="middle">Supply Chain</text>
<text class="c" x="2700" y="1618" text-anchor="middle">Automation</text>
<text class="c" x="3300" y="1566">Asset tracking</text>
<text class="c" x="3057" y="1729" text-anchor="middle">Discharge / Transfer</text>
<text class="c" x="3057" y="1778" text-anchor="middle">Management</text>

<!-- big ring -->
<ellipse cx="3050" cy="1157" rx="733" ry="697" fill="none" stroke="#c0532f" stroke-width="13"/>
</svg>
</body></html>
